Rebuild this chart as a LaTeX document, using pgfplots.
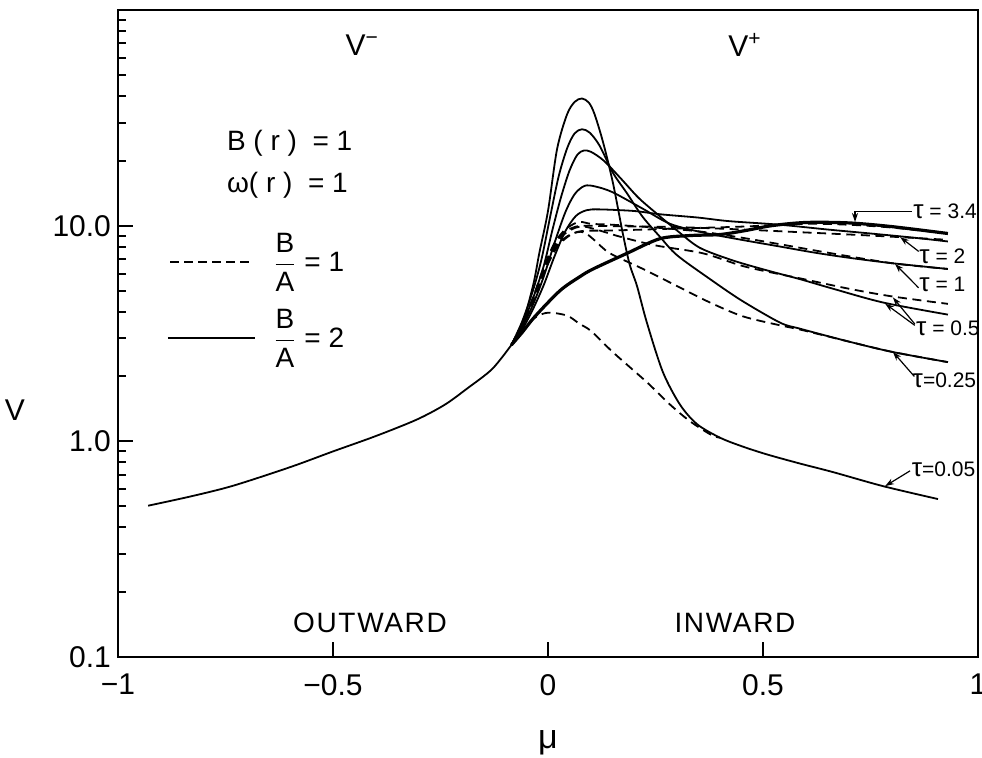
\documentclass[border=0pt]{standalone}
\usepackage{amsmath}
\usepackage{fontspec}
\setmainfont{Liberation Sans}
\usepackage{pgfplots}
\pgfplotsset{compat=1.18}
\usetikzlibrary{arrows.meta}

\begin{document}
\begin{tikzpicture}[
  sol/.style={black, line width=0.9pt, line join=round, smooth, tension=0.5, mark=none},
  dsh/.style={sol, dash pattern=on 4.5pt off 2.8pt}]
\begin{axis}[
  at={(0,0)}, anchor=south west,
  scale only axis, width=430pt, height=323.5pt,
  xmin=-1, xmax=1, ymin=0.1, ymax=100, ymode=log,
  xtick={-1,-0.5,0,0.5,1}, xticklabels={−1,−0.5,0,0.5,1},
  ytick={0.1,1,10}, yticklabels={0.1,1.0,10.0},
  minor ytick={0.2,0.3,0.4,0.5,0.6,0.7,0.8,0.9,2,3,4,5,6,7,8,9,20,30,40,50,60,70,80,90},
  tick align=inside, tick pos=left,
  major tick length=7.5pt, minor tick length=4pt,
  axis line style={line width=1.4pt},
  every tick/.style={black, line width=1pt},
  tick label style={font=\fontsize{15}{18}\selectfont},
  xticklabel style={yshift=-5pt},
  clip=false,
]
% common branch
\addplot[sol] coordinates {(-0.93,0.503) (-0.83,0.556) (-0.733,0.622) (-0.6,0.759) (-0.5,0.898) (-0.4,1.059) (-0.305,1.262) (-0.24,1.479) (-0.188,1.758) (-0.13,2.163) (-0.085,2.8)};
% B/A = 2 (solid)
% tau = 0.05
\addplot[sol] coordinates {(-0.085,2.8) (-0.065,3.2) (-0.035,5.25) (-0.02,7.5) (0,11.7) (0.021,22.6) (0.044,32.7) (0.062,37.5) (0.079,38.9) (0.095,37.2) (0.108,33) (0.128,24.4) (0.151,15.8) (0.174,9.2) (0.19,6.6) (0.207,5.25) (0.23,3.55) (0.267,2.1) (0.307,1.48) (0.347,1.2) (0.4,1.04) (0.45,0.95) (0.509,0.87) (0.585,0.79) (0.663,0.72) (0.779,0.62) (0.907,0.54)};
% tau = 0.25
\addplot[sol] coordinates {(-0.085,2.8) (-0.06,3.6) (-0.035,5) (-0.015,7) (0.005,11) (0.025,17) (0.045,23) (0.062,26.8) (0.079,28) (0.097,27) (0.12,23.5) (0.151,17.6) (0.184,14.1) (0.22,11) (0.26,8.9) (0.3,7.3) (0.377,5.65) (0.45,4.5) (0.54,3.55) (0.586,3.33) (0.7,2.9) (0.8,2.6) (0.93,2.33)};
% tau = 0.5
\addplot[sol] coordinates {(-0.085,2.8) (-0.06,3.5) (-0.035,4.6) (-0.01,6.5) (0.01,9.5) (0.03,13.5) (0.05,18) (0.068,21.3) (0.083,22.3) (0.1,22) (0.13,20) (0.17,16.5) (0.21,13.5) (0.25,11.5) (0.3,9.5) (0.353,7.9) (0.43,6.9) (0.51,6.2) (0.586,5.65) (0.663,5.1) (0.78,4.4) (0.93,3.87)};
% tau = 1
\addplot[sol] coordinates {(-0.085,2.8) (-0.06,3.4) (-0.035,4.3) (-0.01,5.8) (0.015,8.3) (0.04,11.5) (0.062,14) (0.085,15.3) (0.11,15.2) (0.15,14.3) (0.22,12) (0.284,10.2) (0.36,9.3) (0.45,8.6) (0.54,8.0) (0.62,7.5) (0.7,7.1) (0.8,6.7) (0.93,6.3)};
% tau = 2
\addplot[sol] coordinates {(-0.085,2.8) (-0.06,3.3) (-0.035,4.1) (-0.01,5.3) (0.015,7.2) (0.04,9.4) (0.065,11.1) (0.09,11.8) (0.12,11.9) (0.2,11.7) (0.26,11.3) (0.35,10.9) (0.42,10.5) (0.54,10.1) (0.65,9.6) (0.75,9.2) (0.85,8.8) (0.93,8.45)};
% tau = 3.4
\addplot[sol, line width=1.6pt] coordinates {(-0.085,2.8) (-0.06,3.2) (-0.03,3.8) (0.028,5.0) (0.074,5.8) (0.105,6.3) (0.184,7.45) (0.26,8.7) (0.33,9.0) (0.4,9.1) (0.46,9.5) (0.52,10.0) (0.6,10.35) (0.7,10.3) (0.8,9.9) (0.93,9.2)};
% B/A = 1 (dashed)
% tau = 0.05
\addplot[dsh] coordinates {(-0.085,2.8) (-0.06,3.3) (-0.03,3.75) (0,3.95) (0.044,3.83) (0.074,3.5) (0.1,3.25) (0.151,2.59) (0.23,1.88) (0.284,1.48) (0.33,1.24) (0.38,1.07) (0.4,1.04)};
% tau = 0.25
\addplot[dsh] coordinates {(-0.085,2.8) (-0.06,3.5) (-0.035,4.6) (-0.01,6.2) (0.015,7.8) (0.04,8.8) (0.065,9.3) (0.085,9.3) (0.11,8.5) (0.144,7.45) (0.221,6.3) (0.3,5.25) (0.377,4.4) (0.453,3.8) (0.54,3.45) (0.586,3.3) (0.7,2.9) (0.8,2.6) (0.93,2.33)};
% tau = 0.5
\addplot[dsh] coordinates {(-0.085,2.8) (-0.06,3.5) (-0.035,4.6) (-0.01,6.3) (0.015,8.0) (0.04,9.2) (0.065,9.8) (0.085,9.9) (0.12,9.5) (0.167,8.9) (0.25,8.1) (0.36,7.45) (0.453,6.5) (0.54,5.95) (0.586,5.7) (0.7,5.1) (0.8,4.7) (0.93,4.34)};
% tau = 1
\addplot[dsh] coordinates {(-0.085,2.8) (-0.06,3.5) (-0.035,4.6) (-0.01,6.4) (0.015,8.3) (0.04,9.6) (0.065,10.3) (0.08,10.4) (0.1,10.2) (0.15,10.1) (0.25,9.8) (0.353,9.4) (0.45,8.8) (0.54,8.2) (0.65,7.5) (0.8,6.7) (0.93,6.3)};
% tau = 2
\addplot[dsh] coordinates {(-0.085,2.8) (-0.06,3.5) (-0.035,4.6) (-0.01,6.3) (0.015,8.2) (0.04,9.4) (0.065,9.9) (0.085,10.0) (0.15,9.95) (0.3,9.85) (0.45,9.6) (0.6,9.3) (0.75,9.0) (0.93,8.6)};
% tau = 3.4
\addplot[dsh] coordinates {(-0.085,2.8) (-0.06,3.4) (-0.035,4.4) (-0.01,6.0) (0.02,7.9) (0.05,9.0) (0.08,9.45) (0.15,9.5) (0.3,9.7) (0.45,9.9) (0.6,10.2) (0.7,10.1) (0.8,9.8) (0.93,9.2)};

% annotations
\node[font=\fontsize{15}{18}\selectfont] at (axis description cs:-0.12,0.382) {V};
\node[font=\fontsize{17}{20}\selectfont] at (axis description cs:0.5,-0.132) {μ};
\node[font=\fontsize{15}{18}\selectfont] at (axis description cs:0.284,0.946) {V\textsuperscript{−}};
\node[font=\fontsize{15}{18}\selectfont] at (axis description cs:0.729,0.946) {V\textsuperscript{+}};
\node[font=\fontsize{14}{17}\selectfont\addfontfeatures{LetterSpace=6}] at (axis description cs:0.293,0.0526) {OUTWARD};
\node[font=\fontsize{14}{17}\selectfont\addfontfeatures{LetterSpace=6}] at (axis description cs:0.7174,0.0526) {INWARD};
\node[anchor=west, font=\fontsize{14}{17}\selectfont] at (axis description cs:0.1186,0.7944) {B ( r )\ \ = 1};
\node[anchor=west, font=\fontsize{14}{17}\selectfont] at (axis description cs:0.1186,0.7295) {ω( r )\ \ = 1};
\draw[line width=0.9pt, dash pattern=on 4.5pt off 2.5pt] (axis description cs:0.0605,0.6105) -- (axis description cs:0.1558,0.6105);
\draw[line width=0.9pt] (axis description cs:0.0581,0.4930) -- (axis description cs:0.1593,0.4930);
\node[anchor=west, font=\fontsize{14}{17}\selectfont, inner sep=0pt] at (axis description cs:0.180,0.6105) {$\dfrac{\text{B}}{\text{A}}$ = 1};
\node[anchor=west, font=\fontsize{14}{17}\selectfont, inner sep=0pt] at (axis description cs:0.180,0.4930) {$\dfrac{\text{B}}{\text{A}}$ = 2};

\tikzset{tl/.style={anchor=west, inner sep=0.5pt, font=\fontsize{10.5}{12}\selectfont}, ar/.style={line width=0.6pt, -{Stealth[length=4.5pt,width=3pt]}}}
\node[tl] at (axis cs:0.8465,11.64) {{\fontsize{13}{13}\selectfont τ} = 3.4};
\node[tl] at (axis cs:0.8605,7.2) {{\fontsize{13}{13}\selectfont τ} = 2};
\node[tl] at (axis cs:0.8605,5.36) {{\fontsize{13}{13}\selectfont τ} = 1};
\node[tl] at (axis cs:0.853,3.33) {{\fontsize{13}{13}\selectfont τ} = 0.5};
\node[tl] at (axis cs:0.845,1.92) {{\fontsize{13}{13}\selectfont τ}=0.25};
\node[tl] at (axis cs:0.843,0.744) {{\fontsize{13}{13}\selectfont τ}=0.05};
\draw[ar] (axis cs:0.8465,11.64) -- (axis cs:0.714,11.64) -- (axis cs:0.714,10.4);
\draw[ar] (axis cs:0.862,7.6) -- (axis cs:0.819,8.85);
\draw[ar] (axis cs:0.862,5.15) -- (axis cs:0.807,6.65);
\draw[ar] (axis cs:0.853,3.5) -- (axis cs:0.802,4.65);
\draw[ar] (axis cs:0.853,3.45) -- (axis cs:0.784,4.35);
\draw[ar] (axis cs:0.852,2.0) -- (axis cs:0.802,2.6);
\draw[ar] (axis cs:0.842,0.73) -- (axis cs:0.784,0.62);
\end{axis}
\pgfresetboundingbox
\path[use as bounding box] (-59pt,-50pt) rectangle (432pt,328.5pt);
\end{tikzpicture}
\end{document}
